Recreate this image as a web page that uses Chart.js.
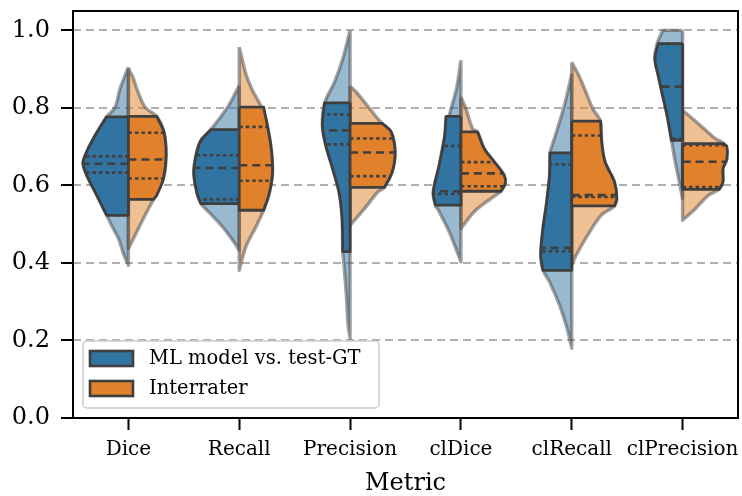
<!DOCTYPE html>
<html>
<head>
<meta charset="utf-8">
<script src="https://cdn.jsdelivr.net/npm/chart.js@4.4.1/dist/chart.umd.min.js"></script>
<style>
  html, body { margin: 0; padding: 0; background: #fff; }
</style>
</head>
<body>
<canvas id="chart" width="742" height="496"></canvas>
<script>
"use strict";

const categories = ["Dice", "Recall", "Precision", "clDice", "clRecall", "clPrecision"];
const seriesNames = ["ML model vs. test-GT", "Interrater"];
const yTicks = [0, 0.2, 0.4, 0.6, 0.8, 1.0];

// light (full) violins: [value, half width] from top to bottom, one per metric
const mlOuter = [
  [[0.905, 0], [0.884, 0.03], [0.85, 0.075], [0.802, 0.12], [0.777, 0.196], [0.721, 0.316], [0.678, 0.39], [0.656, 0.41], [0.626, 0.376], [0.575, 0.286], [0.523, 0.196], [0.49, 0.14], [0.463, 0.09], [0.42, 0.04], [0.394, 0]],
  [[0.858, 0], [0.83, 0.05], [0.802, 0.105], [0.744, 0.256], [0.716, 0.346], [0.678, 0.39], [0.631, 0.41], [0.579, 0.38], [0.553, 0.346], [0.53, 0.27], [0.493, 0.15], [0.459, 0.06], [0.433, 0]],
  [[1.0, 0], [0.927, 0.066], [0.867, 0.14], [0.813, 0.23], [0.755, 0.25], [0.704, 0.22], [0.643, 0.157], [0.583, 0.1], [0.515, 0.072], [0.429, 0.066], [0.41, 0.06], [0.326, 0.036], [0.24, 0.018], [0.205, 0]],
  [[0.923, 0], [0.85, 0.04], [0.781, 0.105], [0.721, 0.15], [0.652, 0.196], [0.583, 0.25], [0.549, 0.23], [0.532, 0.196], [0.48, 0.105], [0.437, 0.045], [0.403, 0]],
  [[0.888, 0], [0.807, 0.066], [0.721, 0.157], [0.684, 0.196], [0.626, 0.2], [0.549, 0.23], [0.489, 0.26], [0.42, 0.28], [0.381, 0.26], [0.351, 0.2], [0.291, 0.11], [0.231, 0.042], [0.18, 0]],
  [[1.0, 0.18], [0.966, 0.23], [0.927, 0.25], [0.884, 0.22], [0.841, 0.187], [0.781, 0.14], [0.716, 0.1], [0.669, 0.072], [0.618, 0.036], [0.566, 0]],
];
const irOuter = [
  [[0.901, 0], [0.88, 0.04], [0.85, 0.075], [0.802, 0.15], [0.778, 0.256], [0.738, 0.32], [0.678, 0.34], [0.618, 0.316], [0.564, 0.226], [0.523, 0.15], [0.48, 0.075], [0.437, 0]],
  [[0.957, 0], [0.888, 0.06], [0.845, 0.12], [0.802, 0.2], [0.751, 0.256], [0.691, 0.29], [0.631, 0.3], [0.579, 0.27], [0.536, 0.22], [0.493, 0.15], [0.442, 0.06], [0.381, 0]],
  [[0.856, 0], [0.841, 0.055], [0.815, 0.13], [0.772, 0.25], [0.76, 0.29], [0.738, 0.37], [0.686, 0.406], [0.635, 0.38], [0.595, 0.31], [0.583, 0.25], [0.54, 0.13], [0.497, 0]],
  [[0.828, 0], [0.798, 0.045], [0.747, 0.105], [0.738, 0.15], [0.695, 0.21], [0.661, 0.3], [0.626, 0.39], [0.605, 0.4], [0.585, 0.36], [0.566, 0.27], [0.532, 0.12], [0.489, 0]],
  [[0.918, 0], [0.884, 0.063], [0.85, 0.115], [0.798, 0.19], [0.766, 0.26], [0.712, 0.27], [0.661, 0.3], [0.609, 0.385], [0.566, 0.406], [0.547, 0.385], [0.523, 0.265], [0.472, 0.144], [0.42, 0.04], [0.394, 0]],
  [[0.794, 0], [0.755, 0.16], [0.721, 0.295], [0.708, 0.37], [0.669, 0.4], [0.643, 0.364], [0.609, 0.364], [0.59, 0.33], [0.575, 0.235], [0.54, 0.115], [0.51, 0]],
];

// dark (cut) violins, flat at the first and last value
const mlInner = [
  [[0.777, 0.196], [0.721, 0.316], [0.678, 0.39], [0.656, 0.41], [0.626, 0.376], [0.575, 0.286], [0.523, 0.196]],
  [[0.744, 0.256], [0.716, 0.346], [0.678, 0.39], [0.631, 0.41], [0.579, 0.38], [0.553, 0.346]],
  [[0.813, 0.23], [0.755, 0.25], [0.704, 0.22], [0.643, 0.157], [0.583, 0.1], [0.515, 0.072], [0.429, 0.066]],
  [[0.778, 0.135], [0.721, 0.15], [0.652, 0.196], [0.583, 0.25], [0.549, 0.23]],
  [[0.684, 0.196], [0.626, 0.2], [0.549, 0.23], [0.489, 0.26], [0.42, 0.28], [0.381, 0.26]],
  [[0.966, 0.22], [0.927, 0.25], [0.884, 0.22], [0.841, 0.187], [0.781, 0.14], [0.716, 0.1]],
];
const irInner = [
  [[0.778, 0.256], [0.738, 0.32], [0.678, 0.34], [0.618, 0.316], [0.575, 0.256], [0.564, 0.226]],
  [[0.802, 0.22], [0.751, 0.256], [0.691, 0.29], [0.631, 0.3], [0.579, 0.27], [0.536, 0.22]],
  [[0.76, 0.29], [0.738, 0.37], [0.686, 0.406], [0.635, 0.38], [0.595, 0.31]],
  [[0.738, 0.15], [0.695, 0.21], [0.661, 0.3], [0.626, 0.39], [0.605, 0.4], [0.585, 0.36]],
  [[0.766, 0.26], [0.712, 0.27], [0.661, 0.3], [0.609, 0.385], [0.566, 0.406], [0.547, 0.385]],
  [[0.708, 0.37], [0.7, 0.4], [0.669, 0.4], [0.643, 0.364], [0.609, 0.364], [0.59, 0.33]],
];

// q1, median, q3
const mlQuartiles = [
  [0.633, 0.656, 0.675],
  [0.564, 0.645, 0.678],
  [0.706, 0.742, 0.783],
  [0.578, 0.585, 0.702],
  [0.43, 0.439, 0.654],
  [0.72, 0.855, 0.965],
];
const irQuartiles = [
  [0.618, 0.667, 0.736],
  [0.612, 0.652, 0.751],
  [0.624, 0.685, 0.721],
  [0.598, 0.631, 0.66],
  [0.57, 0.575, 0.729],
  [0.596, 0.661, 0.704],
];

const colors = ["#3274a1", "#e1812c"];
const lightColors = ["rgba(50,116,161,0.5)", "rgba(225,129,44,0.5)"];
const edgeDark = "#3f3f3f";
const edgeLight = "rgba(70,70,70,0.5)";
const FONT = "'DejaVu Serif', serif";

// half violin outline; corner points are doubled so the curve
// smoothing keeps flat ends and a straight centre line
function polygon(center, side, profile) {
  const top = profile[0][0];
  const bottom = profile[profile.length - 1][0];
  const edge = profile.map(([v, w]) => ({ x: center + side * w, y: v }));
  const first = edge[0], last = edge[edge.length - 1];
  return [
    { x: center, y: top },
    first, first,
    ...edge.slice(1, -1),
    last, last,
    { x: center, y: bottom }, { x: center, y: bottom },
    { x: center, y: top },
  ];
}

function widthAt(profile, v) {
  for (let i = 0; i < profile.length - 1; i++) {
    const [v0, w0] = profile[i];
    const [v1, w1] = profile[i + 1];
    if (v <= v0 && v >= v1) return w0 + (w1 - w0) * (v0 - v) / (v0 - v1);
  }
  return v > profile[0][0] ? profile[0][1] : profile[profile.length - 1][1];
}

function shape(pts, fill, edge, width) {
  return {
    data: pts, showLine: true, fill: "shape", tension: 0.3,
    backgroundColor: fill, borderColor: edge, borderWidth: width,
    pointRadius: 0, borderJoinStyle: "round",
  };
}

const datasets = [];
const outers = [mlOuter, irOuter];
const inners = [mlInner, irInner];
const quartiles = [mlQuartiles, irQuartiles];

categories.forEach((c, i) => {
  [0, 1].forEach((h) => {
    const side = h === 0 ? -1 : 1;
    datasets.push(shape(polygon(i, side, outers[h][i]), lightColors[h], edgeLight, 3.4));
  });
});
categories.forEach((c, i) => {
  [0, 1].forEach((h) => {
    const side = h === 0 ? -1 : 1;
    const prof = inners[h][i];
    datasets.push(shape(polygon(i, side, prof), colors[h], edgeDark, 2.8));
    quartiles[h][i].forEach((q, k) => {
      datasets.push({
        data: [{ x: i, y: q }, { x: i + side * widthAt(prof, q), y: q }],
        showLine: true, fill: false, pointRadius: 0,
        borderColor: edgeDark, borderWidth: 2.6,
        borderDash: k === 1 ? [8, 5] : [3.5, 3],
        borderCapStyle: "butt",
      });
    });
  });
});
// chart.js draws the first dataset on top, so hand them over last-first
datasets.reverse();

const framePlugin = {
  id: "frame",
  afterDraw(chart) {
    const { ctx, chartArea: a } = chart;
    ctx.save();
    ctx.strokeStyle = "#000";
    ctx.lineWidth = 2;
    ctx.strokeRect(a.left, a.top, a.right - a.left, a.bottom - a.top);

    // legend box, lower left
    const bx = a.left + 10, by = a.bottom - 77, bw = 296, bh = 67;
    ctx.beginPath();
    ctx.roundRect(bx, by, bw, bh, 4);
    ctx.fillStyle = "rgba(255,255,255,0.8)";
    ctx.fill();
    ctx.strokeStyle = "#cccccc";
    ctx.lineWidth = 1.5;
    ctx.stroke();
    ctx.font = "19.5px " + FONT;
    ctx.textBaseline = "middle";
    seriesNames.forEach((name, k) => {
      const py = by + 10 + k * 30;
      ctx.fillStyle = colors[k];
      ctx.fillRect(bx + 7, py, 43, 15);
      ctx.strokeStyle = edgeDark;
      ctx.lineWidth = 2.6;
      ctx.strokeRect(bx + 7, py, 43, 15);
      ctx.fillStyle = "#000";
      ctx.fillText(name, bx + 66, py + 8);
    });
    ctx.restore();
  },
};

Chart.defaults.color = "#000";
Chart.defaults.font.family = FONT;

new Chart(document.getElementById("chart"), {
  type: "scatter",
  data: { datasets },
  options: {
    responsive: false,
    devicePixelRatio: 1,
    animation: false,
    events: [],
    indexAxis: "y",
    layout: { padding: { top: 11, right: 4, left: 0, bottom: 0 } },
    plugins: { legend: { display: false }, tooltip: { enabled: false } },
    scales: {
      x: {
        type: "linear", position: "bottom", min: -0.5, max: 5.5,
        afterBuildTicks: (s) => { s.ticks = categories.map((c, i) => ({ value: i })); },
        afterFit: (s) => { s.height = 78; s.paddingLeft = 0; s.paddingRight = 0; },
        border: { display: false },
        grid: { drawOnChartArea: false, drawTicks: true, tickLength: 12, tickColor: "#000", tickWidth: 2 },
        ticks: { font: { size: 20 }, padding: 8, maxRotation: 0, autoSkip: false,
          callback: (v) => categories[v] },
        title: { display: true, text: "Metric", font: { size: 24, lineHeight: 1 }, padding: { top: 0, bottom: 0 } },
      },
      y: {
        type: "linear", position: "left", min: 0, max: 1.05,
        afterBuildTicks: (s) => { s.ticks = yTicks.map((v) => ({ value: v })); },
        afterFit: (s) => { s.width = 73; s.paddingTop = 0; s.paddingBottom = 0; },
        border: { display: false, dash: [8, 5] },
        grid: {
          color: "#b0b0b0", lineWidth: 2,
          tickColor: "#000", tickWidth: 2, tickLength: 12, tickBorderDash: [],
        },
        ticks: { font: { size: 24 }, padding: 11, callback: (v) => v.toFixed(1) },
      },
    },
  },
  plugins: [framePlugin],
});
</script>
</body>
</html>
